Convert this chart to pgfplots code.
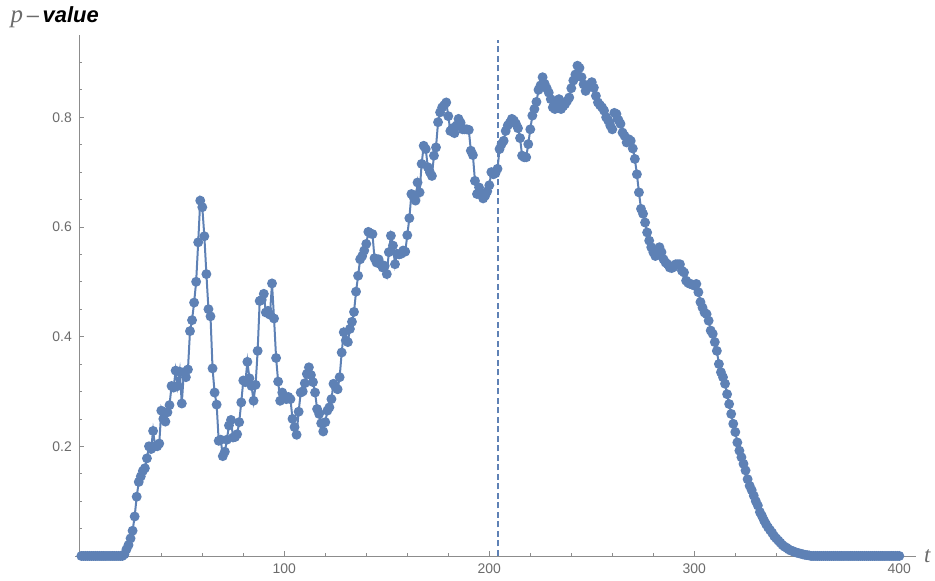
\documentclass[border=0pt]{standalone}
\usepackage{pgfplots}
\pgfplotsset{compat=1.18}
\usepackage{fontspec}
\setmainfont{Liberation Sans}
\newfontfamily\serifit{Liberation Serif}
\definecolor{mblue}{rgb}{0.368,0.507,0.710}
\definecolor{axgray}{rgb}{0.55,0.55,0.55}
\definecolor{lblgray}{rgb}{0.42,0.42,0.42}
\begin{document}
\begin{tikzpicture}
\useasboundingbox (0,0) rectangle (935bp,581bp);
\begin{axis}[
  at={(75.2bp,22.3bp)}, anchor=south west,
  scale only axis, width=840.5bp, height=523.7bp,
  xmin=-2, xmax=408, ymin=-0.005, ymax=0.95,
  axis lines=middle, axis line style={-, axgray, line width=0.8bp},
  clip=false,
  xtick={100,200,300,400},
  minor xtick={20,40,...,400},
  ytick={0.2,0.4,0.6,0.8},
  minor ytick={0.05,0.1,...,0.9},
  tick align=inside,
  major tick length=5bp, minor tick length=3bp,
  tick style={axgray, line width=0.7bp},
  /pgf/number format/assume math mode=true,
  yticklabel style={/pgf/number format/fixed, /pgf/number format/precision=1, /pgf/number format/fixed zerofill, font=\fontsize{14}{16}\selectfont, text=lblgray, xshift=-4bp},
  xticklabel style={font=\fontsize{14}{16}\selectfont, text=lblgray, yshift=-4bp},
]
\addplot[draw=mblue, color=mblue, line width=2bp, dash pattern=on 6bp off 3.5bp, no markers, forget plot] coordinates {(204,0) (204,0.94)};
\addplot[draw=mblue, line width=2bp, mark=*, mark size=3.9bp, mark options={draw=mblue, fill=mblue, solid}] coordinates {
(1,0) (2,0) (3,0) (4,0) (5,0) (6,0) (7,0) (8,0) (9,0) (10,0)
(11,0) (12,0) (13,0) (14,0) (15,0) (16,0) (17,0) (18,0) (19,0) (20,0)
(21,0) (22,0.003) (23,0.012) (24,0.02) (25,0.032) (26,0.046) (27,0.072) (28,0.108) (29,0.135) (30,0.145)
(31,0.155) (32,0.16) (33,0.178) (34,0.2) (35,0.195) (36,0.228) (37,0.2) (38,0.2) (39,0.205) (40,0.265)
(41,0.25) (42,0.245) (43,0.262) (44,0.275) (45,0.31) (46,0.307) (47,0.338) (48,0.31) (49,0.336) (50,0.278)
(51,0.335) (52,0.326) (53,0.34) (54,0.41) (55,0.43) (56,0.462) (57,0.5) (58,0.572) (59,0.648) (60,0.636)
(61,0.583) (62,0.514) (63,0.45) (64,0.437) (65,0.342) (66,0.298) (67,0.276) (68,0.21) (69,0.212) (70,0.182)
(71,0.19) (72,0.212) (73,0.238) (74,0.248) (75,0.216) (76,0.217) (77,0.222) (78,0.244) (79,0.28) (80,0.32)
(81,0.317) (82,0.354) (83,0.324) (84,0.31) (85,0.283) (86,0.312) (87,0.374) (88,0.465) (89,0.467) (90,0.478)
(91,0.444) (92,0.447) (93,0.44) (94,0.497) (95,0.433) (96,0.361) (97,0.318) (98,0.283) (99,0.298) (100,0.288)
(101,0.286) (102,0.29) (103,0.286) (104,0.25) (105,0.235) (106,0.221) (107,0.263) (108,0.298) (109,0.3) (110,0.315)
(111,0.332) (112,0.344) (113,0.33) (114,0.317) (115,0.298) (116,0.268) (117,0.259) (118,0.242) (119,0.227) (120,0.244)
(121,0.265) (122,0.271) (123,0.286) (124,0.314) (125,0.308) (126,0.304) (127,0.326) (128,0.371) (129,0.408) (130,0.393)
(131,0.39) (132,0.414) (133,0.427) (134,0.445) (135,0.482) (136,0.511) (137,0.541) (138,0.547) (139,0.557) (140,0.569)
(141,0.591) (142,0.588) (143,0.587) (144,0.543) (145,0.535) (146,0.541) (147,0.532) (148,0.526) (149,0.529) (150,0.514)
(151,0.554) (152,0.584) (153,0.566) (154,0.532) (155,0.551) (156,0.55) (157,0.551) (158,0.557) (159,0.555) (160,0.585)
(161,0.616) (162,0.66) (163,0.655) (164,0.648) (165,0.681) (166,0.663) (167,0.715) (168,0.748) (169,0.742) (170,0.709)
(171,0.7) (172,0.693) (173,0.73) (174,0.745) (175,0.791) (176,0.809) (177,0.818) (178,0.822) (179,0.827) (180,0.802)
(181,0.775) (182,0.78) (183,0.771) (184,0.785) (185,0.797) (186,0.79) (187,0.778) (188,0.778) (189,0.778) (190,0.777)
(191,0.739) (192,0.731) (193,0.684) (194,0.66) (195,0.672) (196,0.66) (197,0.652) (198,0.657) (199,0.665) (200,0.676)
(201,0.7) (202,0.696) (203,0.698) (204,0.706) (205,0.742) (206,0.751) (207,0.757) (208,0.775) (209,0.785) (210,0.79)
(211,0.797) (212,0.794) (213,0.788) (214,0.78) (215,0.762) (216,0.73) (217,0.727) (218,0.727) (219,0.751) (220,0.778)
(221,0.803) (222,0.815) (223,0.828) (224,0.85) (225,0.858) (226,0.873) (227,0.861) (228,0.853) (229,0.845) (230,0.833)
(231,0.818) (232,0.815) (233,0.827) (234,0.833) (235,0.815) (236,0.82) (237,0.824) (238,0.83) (239,0.836) (240,0.853)
(241,0.867) (242,0.878) (243,0.894) (244,0.89) (245,0.873) (246,0.86) (247,0.848) (248,0.854) (249,0.86) (250,0.864)
(251,0.854) (252,0.839) (253,0.827) (254,0.822) (255,0.818) (256,0.812) (257,0.8) (258,0.794) (259,0.785) (260,0.778)
(261,0.808) (262,0.806) (263,0.795) (264,0.788) (265,0.772) (266,0.766) (267,0.754) (268,0.76) (269,0.757) (270,0.743)
(271,0.724) (272,0.696) (273,0.663) (274,0.633) (275,0.624) (276,0.608) (277,0.59) (278,0.575) (279,0.563) (280,0.554)
(281,0.547) (282,0.55) (283,0.563) (284,0.554) (285,0.541) (286,0.535) (287,0.532) (288,0.526) (289,0.525) (290,0.527)
(291,0.532) (292,0.532) (293,0.532) (294,0.52) (295,0.517) (296,0.502) (297,0.498) (298,0.496) (299,0.495) (300,0.493)
(301,0.496) (302,0.481) (303,0.463) (304,0.453) (305,0.444) (306,0.441) (307,0.429) (308,0.411) (309,0.405) (310,0.39)
(311,0.374) (312,0.35) (313,0.335) (314,0.326) (315,0.314) (316,0.295) (317,0.277) (318,0.259) (319,0.241) (320,0.226)
(321,0.207) (322,0.192) (323,0.18) (324,0.168) (325,0.156) (326,0.14) (327,0.128) (328,0.12) (329,0.11) (330,0.1)
(331,0.092) (332,0.08) (333,0.073) (334,0.065) (335,0.058) (336,0.052) (337,0.047) (338,0.042) (339,0.036) (340,0.032)
(341,0.028) (342,0.024) (343,0.02) (344,0.017) (345,0.015) (346,0.012) (347,0.01) (348,0.009) (349,0.007) (350,0.006)
(351,0.005) (352,0.004) (353,0.003) (354,0.002) (355,0.0015) (356,0.001) (357,0) (358,0) (359,0) (360,0)
(361,0) (362,0) (363,0) (364,0) (365,0) (366,0) (367,0) (368,0) (369,0) (370,0)
(371,0) (372,0) (373,0) (374,0) (375,0) (376,0) (377,0) (378,0) (379,0) (380,0)
(381,0) (382,0) (383,0) (384,0) (385,0) (386,0) (387,0) (388,0) (389,0) (390,0)
(391,0) (392,0) (393,0) (394,0) (395,0) (396,0) (397,0) (398,0) (399,0) (400,0)
};
\node[anchor=west, text=lblgray, font=\serifit\itshape\fontsize{23}{25}\selectfont] at (axis cs:408,0) {\hspace{5bp}t};
\node[anchor=center, font=\fontsize{22}{24}\selectfont] at (axis cs:-12,0.983) {{\serifit\itshape\color{lblgray}\fontsize{25}{27}\selectfont p}{\color{lblgray}\,--\,}{\bfseries\itshape value}};
\end{axis}
\end{tikzpicture}
\end{document}
